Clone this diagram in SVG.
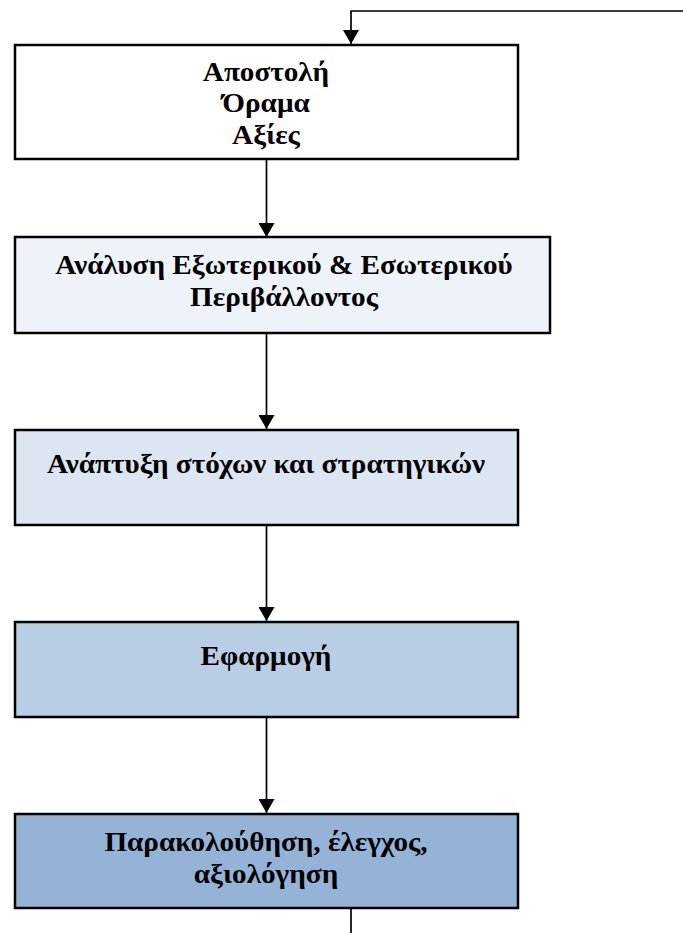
<svg xmlns="http://www.w3.org/2000/svg" width="683" height="933" viewBox="0 0 683 933">
  <style>
    .box { stroke: #000; stroke-width: 2.5; }
    .lbl { font-family: "Liberation Serif", "Times New Roman", serif; font-weight: bold; font-size: 27px; fill: #000; text-anchor: middle; }
    .conn { stroke: #000; stroke-width: 1.7; fill: none; }
  </style>
  <defs>
    <marker id="arrow" viewBox="0 0 14 16" refX="14" refY="8" markerWidth="14" markerHeight="16" markerUnits="userSpaceOnUse" orient="auto">
      <path d="M0,0 L14,8 L0,16 Z" fill="#000"/>
    </marker>
  </defs>

  <g id="connectors">
    <path class="conn" d="M683,11 H351 V44" marker-end="url(#arrow)"/>
    <path class="conn" d="M266.5,159 V237" marker-end="url(#arrow)"/>
    <path class="conn" d="M266.5,333 V429" marker-end="url(#arrow)"/>
    <path class="conn" d="M266.5,525 V621" marker-end="url(#arrow)"/>
    <path class="conn" d="M266.5,717 V813" marker-end="url(#arrow)"/>
    <path class="conn" d="M351,908 V933"/>
  </g>

  <g id="mission">
    <rect class="box" x="15" y="45" width="503" height="114" fill="#FFFFFF"/>
    <g transform="translate(266 0) scale(1.08 1)">
      <text class="lbl" x="0" y="81">Αποστολή</text>
      <text class="lbl" x="0" y="112">Όραμα</text>
      <text class="lbl" x="0" y="144">Αξίες</text>
    </g>
  </g>

  <g id="analysis">
    <rect class="box" x="15" y="237" width="535" height="96" fill="#EEF2F9"/>
    <g transform="translate(284 0) scale(1.08 1)">
      <text class="lbl" x="0" y="274">Ανάλυση Εξωτερικού &amp; Εσωτερικού</text>
      <text class="lbl" x="0" y="306">Περιβάλλοντος</text>
    </g>
  </g>

  <g id="goals">
    <rect class="box" x="15" y="430" width="503" height="95" fill="#DCE6F2"/>
    <g transform="translate(266 0) scale(1.08 1)">
      <text class="lbl" x="0" y="473">Ανάπτυξη στόχων και στρατηγικών</text>
    </g>
  </g>

  <g id="implementation">
    <rect class="box" x="15" y="622" width="503" height="95" fill="#B9CDE5"/>
    <g transform="translate(266 0) scale(1.08 1)">
      <text class="lbl" x="0" y="665">Εφαρμογή</text>
    </g>
  </g>

  <g id="monitoring">
    <rect class="box" x="15" y="814" width="503" height="94" fill="#95B3D7"/>
    <g transform="translate(266 0) scale(1.08 1)">
      <text class="lbl" x="0" y="851">Παρακολούθηση, έλεγχος,</text>
      <text class="lbl" x="0" y="883">αξιολόγηση</text>
    </g>
  </g>
</svg>
